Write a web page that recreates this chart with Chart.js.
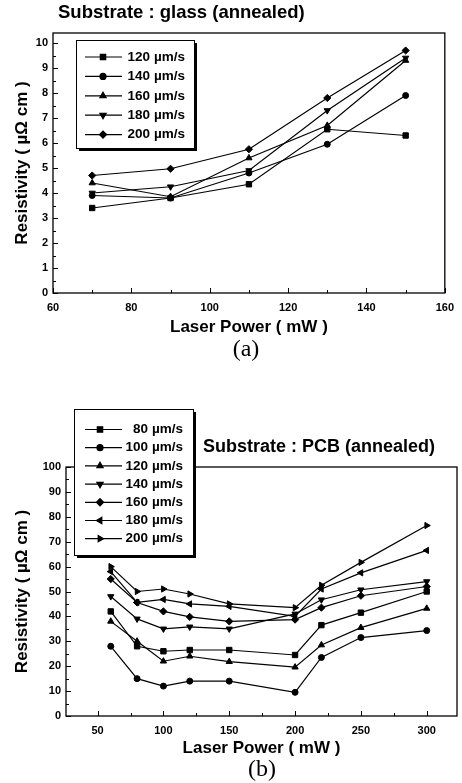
<!DOCTYPE html>
<html>
<head>
<meta charset="utf-8">
<script src="https://cdn.jsdelivr.net/npm/chart.js@4/dist/chart.umd.min.js"></script>
<style>
  html, body { margin: 0; padding: 0; background: #fff; }
  #wrap { position: relative; width: 462px; height: 783px; }
  #chartA { position: absolute; left: 0; top: 0; }
  #chartB { position: absolute; left: 0; top: 380px; }
</style>
</head>
<body>
<div id="wrap">
  <canvas id="chartA" width="462" height="365"></canvas>
  <canvas id="chartB" width="462" height="403"></canvas>
</div>
<script>
// ---- Daten Teil (a): Glas-Substrat ----
const powerA   = [70, 90, 110, 130, 150];
const speedsA  = ['120', '140', '160', '180', '200'];
const res120A  = [3.4, 3.8, 4.35, 6.55, 6.3];
const res140A  = [3.9, 3.8, 4.8, 5.95, 7.9];
const res160A  = [4.4, 3.85, 5.4, 6.7, 9.3];
const res180A  = [4.0, 4.25, 4.9, 7.3, 9.4];
const res200A  = [4.7, 4.97, 5.75, 7.8, 9.7];
const xTicksA      = [60, 80, 100, 120, 140, 160];
const xMinorTicksA = [70, 90, 110, 130, 150];
const yTicksA      = [0, 1, 2, 3, 4, 5, 6, 7, 8, 9, 10];
const yMinorTicksA = [0.5, 1.5, 2.5, 3.5, 4.5, 5.5, 6.5, 7.5, 8.5, 9.5];

// ---- Daten Teil (b): PCB-Substrat ----
const powerB   = [60, 80, 100, 120, 150, 200, 220, 250, 300];
const speedsB  = ['80', '100', '120', '140', '160', '180', '200'];
const res80B   = [42, 28, 26, 26.5, 26.5, 24.5, 36.5, 41.5, 50];
const res100B  = [28, 15, 12, 14, 14, 9.5, 23.5, 31.5, 34.3];
const res120B  = [38, 30, 22, 24, 21.8, 19.6, 28.5, 35.5, 43.2];
const res140B  = [48, 39, 35, 35.8, 35, 41, 46.7, 50.7, 54];
const res160B  = [55, 45.6, 42, 39.8, 38, 38.7, 43.5, 48.3, 52];
const res180B  = [58, 45.6, 46.8, 45, 44, 40, 51, 57.5, 66.5];
const res200B  = [60, 50, 51, 49, 45, 43.5, 52.5, 61.7, 76.5];
const xTicksB      = [50, 100, 150, 200, 250, 300];
const xMinorTicksB = [75, 125, 175, 225, 275];
const yTicksB      = [0, 10, 20, 30, 40, 50, 60, 70, 80, 90, 100];
const yMinorTicksB = [5, 15, 25, 35, 45, 55, 65, 75, 85, 95];

const SANS  = '"Liberation Sans", Arial, sans-serif';
const SERIF = '"Liberation Serif", "Times New Roman", serif';

// Marker je Serie: Form + Drehung
const markers = [
  { style: 'rect',     rot: 0,   r: 3.8 },
  { style: 'circle',   rot: 0,   r: 3.0 },
  { style: 'triangle', rot: 0,   r: 3.6 },
  { style: 'triangle', rot: 180, r: 3.6 },
  { style: 'rectRot',  rot: 0,   r: 3.6 },
  { style: 'triangle', rot: 270, r: 3.6 },
  { style: 'triangle', rot: 90,  r: 3.6 },
];

function makeDataset(xs, ys, m) {
  return {
    data: xs.map((x, i) => ({ x, y: ys[i] })),
    borderColor: '#000',
    borderWidth: 1.2,
    pointStyle: m.style,
    pointRotation: m.rot,
    pointRadius: m.r,
    pointBackgroundColor: '#000',
    pointBorderColor: '#000',
    pointBorderWidth: 1,
    tension: 0,
    fill: false,
  };
}

// Rahmen um die Plotfläche und nach innen zeigende Tick-Striche.
const frameTicks = {
  id: 'frameTicks',
  afterDatasetsDraw(chart, args, o) {
    const { ctx, chartArea: a, scales: { x, y } } = chart;
    ctx.save();
    ctx.strokeStyle = '#000';
    ctx.lineWidth = 1.3;
    ctx.strokeRect(a.left, a.top, a.right - a.left, a.bottom - a.top);
    ctx.lineWidth = 1;
    ctx.beginPath();
    const tickX = (vals, len) => vals.forEach(v => {
      const px = Math.round(x.getPixelForValue(v)) + 0.5;
      ctx.moveTo(px, a.bottom); ctx.lineTo(px, a.bottom - len);
    });
    const tickY = (vals, len) => vals.forEach(v => {
      const py = Math.round(y.getPixelForValue(v)) + 0.5;
      ctx.moveTo(a.left, py); ctx.lineTo(a.left + len, py);
    });
    tickX(o.majorX, 5); tickX(o.minorX, 3);
    tickY(o.majorY, 5); tickY(o.minorY, 3);
    ctx.stroke();
    ctx.restore();
  }
};

// Legende mit Schatten, Linie + Marker + Text (Zahl rechtsbündig).
const boxLegend = {
  id: 'boxLegend',
  afterDraw(chart, args, o) {
    const { ctx } = chart;
    const b = o.box;
    ctx.save();
    ctx.fillStyle = '#000';
    ctx.fillRect(b.x + 3, b.y + 3, b.w, b.h);
    ctx.fillStyle = '#fff';
    ctx.fillRect(b.x, b.y, b.w, b.h);
    ctx.strokeStyle = '#000';
    ctx.lineWidth = 1;
    ctx.strokeRect(b.x + 0.5, b.y + 0.5, b.w, b.h);
    ctx.font = 'bold 13.5px ' + SANS;
    ctx.textBaseline = 'middle';
    chart.data.datasets.forEach((ds, i) => {
      const yy = o.rowY + i * o.rowStep;
      ctx.beginPath();
      ctx.lineWidth = 1.2;
      ctx.moveTo(o.lineX0, yy); ctx.lineTo(o.lineX1, yy);
      ctx.stroke();
      ctx.fillStyle = '#000';
      if (Chart.helpers && Chart.helpers.drawPoint) {
        Chart.helpers.drawPoint(ctx, {
          pointStyle: ds.pointStyle, rotation: ds.pointRotation,
          radius: ds.pointRadius, borderWidth: 1
        }, o.markX, yy);
      }
      ctx.textAlign = 'right';
      ctx.fillText(o.labels[i], o.numRight, yy);
      ctx.textAlign = 'left';
      ctx.fillText('µm/s', o.unitX, yy);
    });
    ctx.restore();
  }
};

// Freie Texte: Titel und Teilbild-Beschriftung.
const freeText = {
  id: 'freeText',
  afterDraw(chart, args, o) {
    const { ctx } = chart;
    ctx.save();
    ctx.fillStyle = '#000';
    ctx.textBaseline = 'middle';
    o.items.forEach(t => {
      ctx.font = t.font;
      ctx.textAlign = t.align || 'left';
      ctx.fillText(t.text, t.x, t.y);
    });
    ctx.restore();
  }
};

function axisConfig(min, max, ticks, isX, fixedSize, titleText, titlePad, labelPad) {
  return {
    type: 'linear',
    min, max,
    afterBuildTicks: ax => { ax.ticks = ticks.map(v => ({ value: v })); },
    afterFit: ax => { if (isX) ax.height = fixedSize; else ax.width = fixedSize; },
    grid: { display: false, drawTicks: false },
    border: { display: false },
    ticks: {
      color: '#000',
      padding: labelPad,
      maxRotation: 0,
      autoSkip: false,
      font: { family: SANS, size: 11, weight: 'bold' },
    },
    title: {
      display: true,
      text: titleText,
      color: '#000',
      padding: titlePad,
      font: { family: SANS, size: 17, weight: 'bold' },
    },
  };
}

Chart.register(frameTicks, boxLegend, freeText);

// ---- Diagramm (a) ----
new Chart(document.getElementById('chartA'), {
  type: 'line',
  data: {
    datasets: [res120A, res140A, res160A, res180A, res200A].map((ys, i) => makeDataset(powerA, ys, markers[i])),
  },
  options: {
    responsive: false,
    animation: false,
    events: [],
    layout: { padding: { top: 33, right: 10, left: 0, bottom: 0 } },
    scales: {
      x: axisConfig(60, 160, xTicksA, true, 72, 'Laser Power ( mW )', { top: 0, bottom: 27 }, 8),
      y: axisConfig(0, 10.4, yTicksA, false, 53, 'Resistivity ( µΩ cm )', { top: 12, bottom: 0 }, 5),
    },
    plugins: {
      legend: { display: false },
      tooltip: { enabled: false },
      frameTicks: { majorX: xTicksA, minorX: xMinorTicksA, majorY: yTicksA, minorY: yMinorTicksA },
      boxLegend: {
        labels: speedsA,
        box: { x: 76, y: 40, w: 118, h: 108 },
        rowY: 57, rowStep: 19.4,
        lineX0: 85, lineX1: 122, markX: 103,
        numRight: 150, unitX: 154,
      },
      freeText: {
        items: [
          { text: 'Substrate : glass (annealed)', x: 58, y: 13, font: 'bold 18.5px ' + SANS },
          { text: '(a)', x: 246, y: 350, align: 'center', font: '24px ' + SERIF },
        ],
      },
    },
  },
});

// ---- Diagramm (b) ----
new Chart(document.getElementById('chartB'), {
  type: 'line',
  data: {
    datasets: [res80B, res100B, res120B, res140B, res160B, res180B, res200B].map((ys, i) => makeDataset(powerB, ys, markers[i])),
  },
  options: {
    responsive: false,
    animation: false,
    events: [],
    layout: { padding: { top: 87, right: 3, left: 0, bottom: 0 } },
    scales: {
      x: axisConfig(26, 323, xTicksB, true, 67, 'Laser Power ( mW )', { top: 0, bottom: 24 }, 8),
      y: axisConfig(0, 100, yTicksB, false, 66, 'Resistivity ( µΩ cm )', { top: 12, bottom: 0 }, 5),
    },
    plugins: {
      legend: { display: false },
      tooltip: { enabled: false },
      frameTicks: { majorX: xTicksB, minorX: xMinorTicksB, majorY: yTicksB, minorY: yMinorTicksB },
      boxLegend: {
        labels: speedsB,
        box: { x: 74, y: 29, w: 119, h: 146 },
        rowY: 49.5, rowStep: 18.2,
        lineX0: 85, lineX1: 122, markX: 100,
        numRight: 148, unitX: 152,
      },
      freeText: {
        items: [
          { text: 'Substrate : PCB (annealed)', x: 203, y: 67, font: 'bold 18px ' + SANS },
          { text: '(b)', x: 262, y: 390, align: 'center', font: '24px ' + SERIF },
        ],
      },
    },
  },
});
</script>
</body>
</html>
